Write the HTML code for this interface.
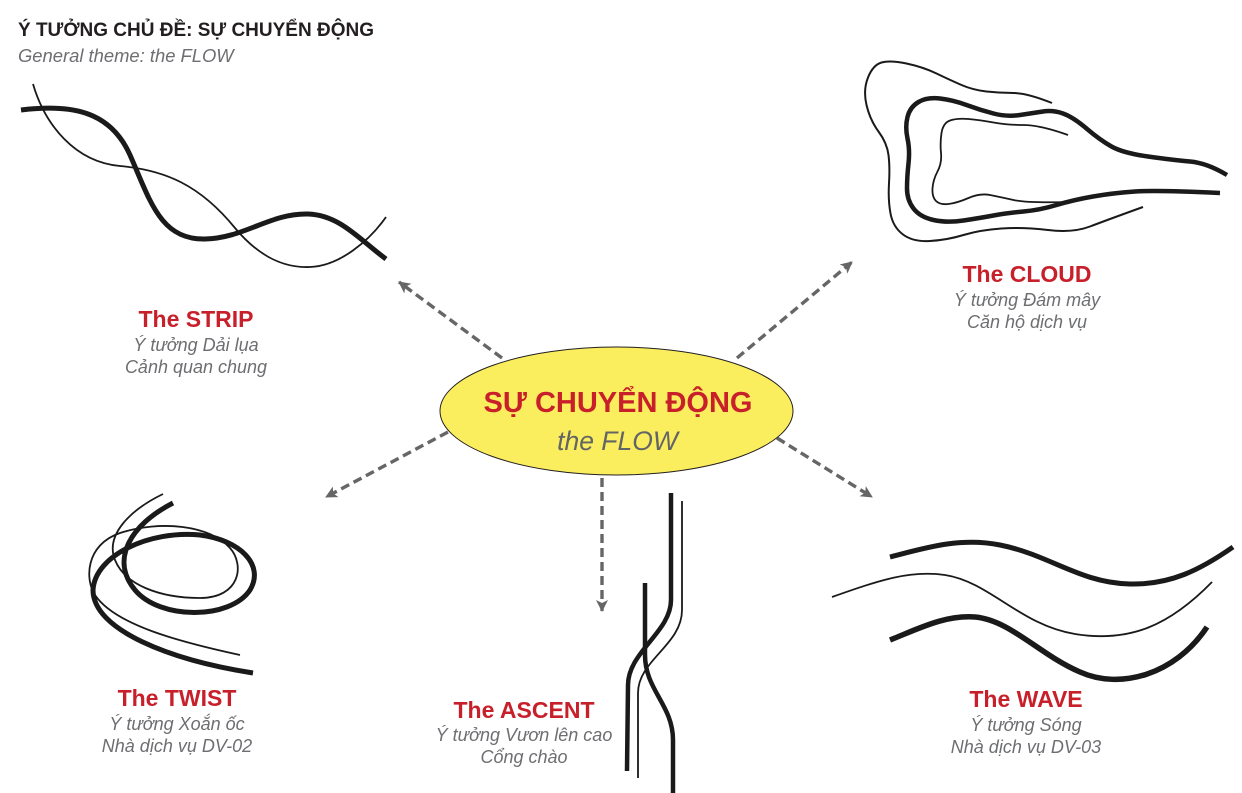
<!DOCTYPE html>
<html>
<head>
<meta charset="utf-8">
<style>
  html, body { margin: 0; padding: 0; background: #ffffff; }
  body { width: 1242px; height: 793px; overflow: hidden; }
  svg { display: block; }
  .t { font-family: "Liberation Sans", "DejaVu Sans", sans-serif; }
  .red { fill: #c8202a; font-weight: bold; font-size: 23px; }
  .sub { fill: #6d6e71; font-style: italic; font-size: 18px; }
</style>
</head>
<body>
<svg width="1242" height="793" viewBox="0 0 1242 793" xmlns="http://www.w3.org/2000/svg">
  <defs>
    <marker id="ah" viewBox="0 0 12 12" refX="11" refY="6" markerWidth="12" markerHeight="12" markerUnits="userSpaceOnUse" orient="auto">
      <path d="M12,6 L0,0 L3,6 L0,12 Z" fill="#666666"/>
    </marker>
  </defs>

  <!-- Title -->
  <text class="t" x="18" y="36" font-size="19" font-weight="bold" fill="#231f20">Ý TƯỞNG CHỦ ĐỀ: SỰ CHUYỂN ĐỘNG</text>
  <text class="t" x="18" y="62" font-size="18.4" font-style="italic" fill="#6d6e71">General theme: the FLOW</text>

  <!-- STRIP curves -->
  <g fill="none" stroke="#1a1a1a" stroke-linecap="butt">
    <path d="M21,110 C70,104 110,110 130,155 C150,200 160,240 205,239 C245,238 270,213 308,214 C340,215 360,240 386,259" stroke-width="5"/>
    <path d="M33,84 C45,125 75,162 120,166 C165,170 200,185 235,228 C260,258 285,268 310,267 C340,266 370,240 386,217" stroke-width="1.8"/>
  </g>

  <!-- CLOUD curves -->
  <g fill="none" stroke="#1a1a1a" stroke-linecap="butt" stroke-linejoin="round">
    <path d="M1052,103 Q1027,93 1013.5,93 Q1000,93 986.5,91.5 Q973,90 961.5,85 Q950,80 936.5,73.5 Q923,67 906.5,63.5 Q890,60 881.5,62.5 Q873,65 868,77.5 Q863,90 866.5,105 Q870,120 878.5,131.5 Q887,143 888.5,155 Q890,167 889,183.5 Q888,200 890.5,213.5 Q893,227 903,234.5 Q913,242 930,241 Q947,240 963.5,235 Q980,230 1001.5,228.5 Q1023,227 1048,230 Q1073,233 1090,226.5 Q1107,220 1143,207" stroke-width="2"/>
    <path d="M1227,175 Q1207,163 1190,161.5 Q1173,160 1148,156.5 Q1123,153 1111.5,146.5 Q1100,140 1086.5,128.5 Q1073,117 1063,113.5 Q1053,110 1043,111.5 Q1033,113 1020,115 Q1007,117 993.5,113.5 Q980,110 966.5,105 Q953,100 940,98.5 Q927,97 918.5,102 Q910,107 907.5,117 Q905,127 907.5,138.5 Q910,150 908.5,163.5 Q907,177 907,188.5 Q907,200 913.5,208.5 Q920,217 933.5,220 Q947,223 963.5,220.5 Q980,218 993.5,215.5 Q1007,213 1023.5,211.5 Q1040,210 1056.5,205 Q1073,200 1093,196.5 Q1113,193 1135,191.5 Q1157,190 1220,193" stroke-width="4.5"/>
    <path d="M1068,135 Q1040,125 1023.5,125 Q1007,125 993.5,122.5 Q980,120 968.5,119 Q957,118 950,120.5 Q943,123 941.5,133 Q940,143 941,153 Q942,163 937.5,171.5 Q933,180 932.5,188.5 Q932,197 936,201 Q940,205 948.5,204 Q957,203 968.5,198 Q980,193 990,195 Q1000,197 1013.5,200 Q1027,203 1067,202" stroke-width="1.8"/>
  </g>

  <!-- TWIST curves -->
  <g fill="none" stroke="#1a1a1a" stroke-linecap="butt">
    <path d="M173,503 C130,525 110,560 135,590 C160,620 230,620 250,590 C265,565 240,540 200,535 C150,530 95,555 93,590 C93,630 170,660 253,673" stroke-width="5"/>
    <path d="M163,494 C130,510 105,535 115,560 C125,585 160,598 200,598 C240,598 245,565 230,548 C210,525 160,520 120,533 C85,545 85,580 95,595 C115,625 180,642 240,655" stroke-width="1.8"/>
  </g>

  <!-- ASCENT curves -->
  <g fill="none" stroke="#1a1a1a" stroke-linecap="butt">
    <path d="M671,493 L671,600 C671,632 628,652 628,685 L627,771" stroke-width="4.5"/>
    <path d="M682,501 L682,610 C682,645 638,660 638,693 L638,778" stroke-width="1.8"/>
    <path d="M645,583 L645,655 C645,690 673,705 673,740 L673,793" stroke-width="4.5"/>
  </g>

  <!-- WAVE curves -->
  <g fill="none" stroke="#1a1a1a" stroke-linecap="butt">
    <path d="M890,557 C925,548 960,537 1000,545 C1050,555 1080,583 1130,584 C1170,585 1200,570 1233,547" stroke-width="5"/>
    <path d="M832,597 C880,580 910,570 945,575 C990,582 1020,625 1075,634 C1130,643 1170,625 1212,582" stroke-width="1.8"/>
    <path d="M890,640 C920,628 945,615 975,617 C1010,620 1040,655 1080,672 C1120,690 1175,675 1207,627" stroke-width="5.5"/>
  </g>

  <!-- Arrows -->
  <g fill="none" stroke="#666666" stroke-width="3.4" stroke-dasharray="9 5">
    <line x1="502" y1="358" x2="399" y2="282" marker-end="url(#ah)"/>
    <line x1="448" y1="432" x2="326" y2="497" marker-end="url(#ah)"/>
    <line x1="737" y1="358" x2="852" y2="262" marker-end="url(#ah)"/>
    <line x1="777" y1="438" x2="872" y2="497" marker-end="url(#ah)"/>
    <line x1="602" y1="478" x2="602" y2="611" marker-end="url(#ah)"/>
  </g>

  <!-- Central ellipse -->
  <ellipse cx="616.5" cy="411" rx="176.5" ry="64" fill="#fbee5e" stroke="#231f20" stroke-width="1"/>
  <text class="t" x="618" y="412" text-anchor="middle" font-size="29" font-weight="bold" fill="#c8202a">SỰ CHUYỂN ĐỘNG</text>
  <text class="t" x="617.5" y="450" text-anchor="middle" font-size="26.5" font-style="italic" fill="#636466">the FLOW</text>

  <!-- Labels -->
  <g class="t" text-anchor="middle">
    <text class="red" x="196" y="327">The STRIP</text>
    <text class="sub" x="196" y="351">Ý tưởng Dải lụa</text>
    <text class="sub" x="196" y="373">Cảnh quan chung</text>

    <text class="red" x="1027" y="282">The CLOUD</text>
    <text class="sub" x="1027" y="306">Ý tưởng Đám mây</text>
    <text class="sub" x="1027" y="328">Căn hộ dịch vụ</text>

    <text class="red" x="177" y="706">The TWIST</text>
    <text class="sub" x="177" y="730">Ý tưởng Xoắn ốc</text>
    <text class="sub" x="177" y="752">Nhà dịch vụ DV-02</text>

    <text class="red" x="524" y="718">The ASCENT</text>
    <text class="sub" x="524" y="741">Ý tưởng Vươn lên cao</text>
    <text class="sub" x="524" y="763">Cổng chào</text>

    <text class="red" x="1026" y="707">The WAVE</text>
    <text class="sub" x="1026" y="731">Ý tưởng Sóng</text>
    <text class="sub" x="1026" y="753">Nhà dịch vụ DV-03</text>
  </g>
</svg>
</body>
</html>
